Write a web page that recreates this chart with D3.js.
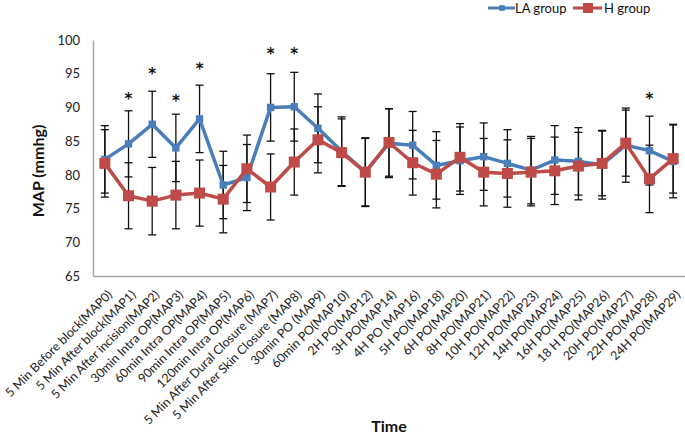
<!DOCTYPE html>
<html>
<head>
<meta charset="utf-8">
<script src="https://cdn.jsdelivr.net/npm/d3@7"></script>
<style>
  body { margin: 0; background: #fff; }
  svg { display: block; }
</style>
</head>
<body>
<script>
// chart size
var width = 685;
var height = 437;

// time points
var timeLabels = [
  "5 Min Before block(MAP0)", "5 Min After block(MAP1)", "5 Min After incision(MAP2)",
  "30min Intra OP(MAP3)", "60min Intra OP(MAP4)", "90min Intra OP(MAP5)",
  "120min Intra OP(MAP6)", "5 Min After Dural Closure (MAP7)", "5 Min After Skin Closure (MAP8)",
  "30min PO (MAP9)", "60min PO(MAP10)", "2H PO(MAP12)", "3H PO(MAP14)", "4H PO (MAP16)",
  "5H PO(MAP18)", "6H PO(MAP20)", "8H PO(MAP21)", "10H PO(MAP22)", "12H PO(MAP23)",
  "14H PO(MAP24)", "16H PO(MAP25)", "18 H PO(MAP26)", "20H PO(MAP27)", "22H PO(MAP28)",
  "24H PO(MAP29)"
];

// LA group mean and SD
var laMean = [82.3, 84.6, 87.5, 84.0, 88.3, 78.5, 79.6, 90.0, 90.1, 86.9, 83.5, 80.4, 84.7,
              84.4, 81.4, 82.1, 82.7, 81.7, 80.7, 82.2, 82.0, 81.5, 84.4, 83.6, 82.0];
var laSD   = [5.0, 4.9, 4.9, 5.0, 5.0, 5.0, 4.9, 5.0, 5.1, 5.1, 5.1, 5.0, 5.1,
              5.0, 5.0, 5.0, 5.0, 5.0, 5.0, 5.1, 5.0, 5.1, 5.5, 5.1, 5.4];

// H group mean and SD
var hMean = [81.7, 76.9, 76.1, 77.0, 77.3, 76.4, 80.9, 78.2, 81.9, 85.2, 83.3, 80.4, 84.8,
             81.8, 80.1, 82.6, 80.4, 80.2, 80.4, 80.6, 81.3, 81.7, 84.7, 79.4, 82.4];
var hSD   = [5.0, 4.9, 5.0, 5.0, 4.9, 5.0, 5.0, 4.9, 4.9, 4.9, 5.0, 5.1, 5.0,
             4.8, 5.0, 5.0, 5.0, 5.0, 5.0, 5.0, 5.0, 4.8, 4.9, 5.0, 5.1];

// significance markers (index, height of the asterisk in mmHg)
var starIndex = [1, 2, 3, 4, 7, 8, 23];
var starValue = [92.2, 95.9, 91.9, 96.6, 98.8, 98.8, 92.2];

var yTicks = [65, 70, 75, 80, 85, 90, 95, 100];

var blue = "#4a7ebb";
var red = "#be4b48";
var font = "Lato, 'Open Sans', sans-serif";

var margin = {top: 40, right: 0, bottom: 161, left: 93};

var svg = d3.select("body").append("svg")
  .attr("width", width)
  .attr("height", height);

var x = d3.scaleBand()
  .domain(d3.range(timeLabels.length))
  .range([margin.left, width - margin.right]);

var y = d3.scaleLinear()
  .domain([65, 100])
  .range([height - margin.bottom, margin.top]);

function cx(i) { return x(i) + x.bandwidth() / 2; }

// axes
var yAxis = svg.append("g")
  .attr("transform", "translate(" + margin.left + ",0)")
  .call(d3.axisLeft(y).tickValues(yTicks).tickSize(0).tickPadding(13));
yAxis.select(".domain").attr("stroke", "#a6a6a6").attr("stroke-width", 1.5);
yAxis.selectAll("text").attr("font-family", font).attr("font-size", 13).attr("fill", "#222");

var xAxis = svg.append("g")
  .attr("transform", "translate(0," + y(65) + ")")
  .call(d3.axisBottom(x).tickSize(0).tickFormat(function (i) { return timeLabels[i]; }));
xAxis.select(".domain").attr("stroke", "#a6a6a6").attr("stroke-width", 1.5);
xAxis.selectAll(".tick text")
  .attr("font-family", font)
  .attr("font-size", 12.4)
  .attr("fill", "#222")
  .attr("text-anchor", "end")
  .attr("transform", "translate(8,19.5) rotate(-45)")
  .attr("x", 0)
  .attr("y", 0)
  .attr("dy", 0);

// error bars
function errorBars(mean, sd) {
  var g = svg.append("g").attr("stroke", "#111").attr("stroke-width", 1.3);
  mean.forEach(function (m, i) {
    var x0 = cx(i);
    var top = y(m + sd[i]), bot = y(m - sd[i]);
    g.append("line").attr("x1", x0).attr("x2", x0).attr("y1", top).attr("y2", bot);
    g.append("line").attr("x1", x0 - 4).attr("x2", x0 + 4).attr("y1", top).attr("y2", top);
    g.append("line").attr("x1", x0 - 4).attr("x2", x0 + 4).attr("y1", bot).attr("y2", bot);
  });
}
errorBars(laMean, laSD);
errorBars(hMean, hSD);

var line = d3.line()
  .x(function (d, i) { return cx(i); })
  .y(function (d) { return y(d); });

// LA group
svg.append("path")
  .datum(laMean)
  .attr("fill", "none")
  .attr("stroke", blue)
  .attr("stroke-width", 3.5)
  .attr("stroke-linejoin", "round")
  .attr("d", line);

svg.append("g").selectAll("path")
  .data(laMean)
  .enter().append("path")
  .attr("d", d3.symbol().type(d3.symbolDiamond2).size(70))
  .attr("transform", function (d, i) { return "translate(" + cx(i) + "," + y(d) + ") rotate(45)"; })
  .attr("fill", blue);

// H group
svg.append("path")
  .datum(hMean)
  .attr("fill", "none")
  .attr("stroke", red)
  .attr("stroke-width", 3.5)
  .attr("stroke-linejoin", "round")
  .attr("d", line);

svg.append("g").selectAll("rect")
  .data(hMean)
  .enter().append("rect")
  .attr("x", function (d, i) { return cx(i) - 5.5; })
  .attr("y", function (d) { return y(d) - 5.5; })
  .attr("width", 11)
  .attr("height", 11)
  .attr("fill", red);

// asterisks
svg.append("g").selectAll("text")
  .data(starIndex)
  .enter().append("text")
  .attr("x", function (d) { return cx(d); })
  .attr("y", function (d, k) { return y(starValue[k]); })
  .attr("dy", "0.75em")
  .attr("text-anchor", "middle")
  .attr("font-family", "'DejaVu Sans', sans-serif")
  .attr("font-weight", "bold")
  .attr("font-size", 15)
  .attr("fill", "#111")
  .text("*");

// axis titles
svg.append("text")
  .attr("transform", "translate(44," + ((y(65) + y(100)) / 2 + 13) + ") rotate(-90)")
  .attr("text-anchor", "middle")
  .attr("font-family", font)
  .attr("font-weight", "bold")
  .attr("font-size", 16)
  .attr("fill", "#111")
  .text("MAP (mmhg)");

svg.append("text")
  .attr("x", (x.range()[0] + x.range()[1]) / 2)
  .attr("y", 432)
  .attr("text-anchor", "middle")
  .attr("font-family", font)
  .attr("font-weight", "bold")
  .attr("font-size", 16)
  .attr("fill", "#111")
  .text("Time");

// legend
var legend = svg.append("g").attr("transform", "translate(488,8)");
legend.append("line").attr("x1", 0).attr("x2", 27).attr("stroke", blue).attr("stroke-width", 3);
legend.append("path")
  .attr("d", d3.symbol().type(d3.symbolDiamond2).size(40))
  .attr("transform", "translate(14,0) rotate(45)")
  .attr("fill", blue);
legend.append("text").attr("x", 27).attr("y", 0).attr("dy", "0.35em")
  .attr("font-family", font).attr("font-size", 13).attr("fill", "#111").text("LA group");
legend.append("line").attr("x1", 85).attr("x2", 114).attr("stroke", red).attr("stroke-width", 3);
legend.append("rect").attr("x", 95).attr("y", -5).attr("width", 10).attr("height", 10).attr("fill", red);
legend.append("text").attr("x", 116).attr("y", 0).attr("dy", "0.35em")
  .attr("font-family", font).attr("font-size", 13).attr("fill", "#111").text("H group");
</script>
</body>
</html>
